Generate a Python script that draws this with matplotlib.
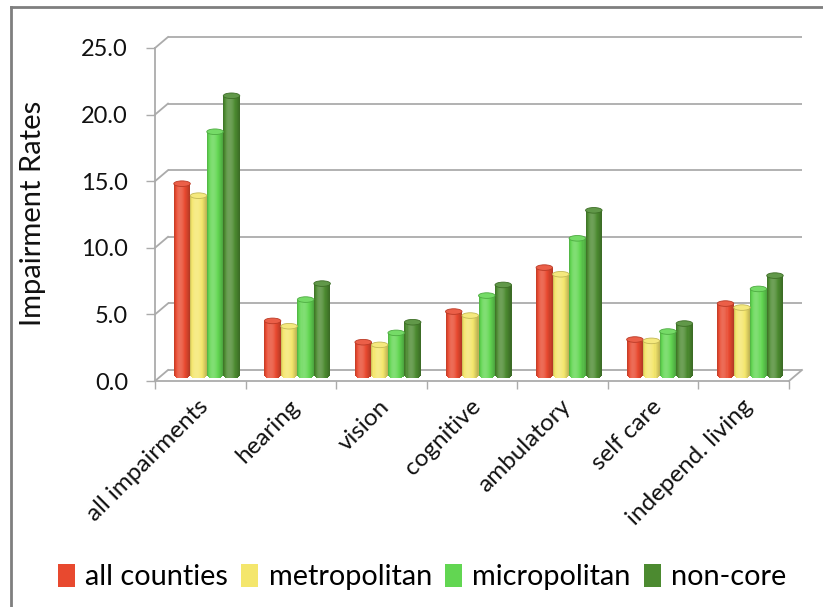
import numpy as np
import matplotlib
matplotlib.use("Agg")
import matplotlib.pyplot as plt
from matplotlib.patches import Ellipse, Patch
from matplotlib.lines import Line2D

categories = ["all impairments", "hearing", "vision", "cognitive",
              "ambulatory", "self care", "independ. living"]
series = ["all counties", "metropolitan", "micropolitan", "non-core"]
all_counties = [14.4, 4.1, 2.5, 4.8, 8.1, 2.7, 5.4]
metropolitan = [13.5, 3.7, 2.3, 4.5, 7.6, 2.6, 5.1]
micropolitan = [18.3, 5.7, 3.2, 6.0, 10.3, 3.3, 6.5]
non_core = [21.0, 6.9, 4.0, 6.8, 12.4, 3.9, 7.5]
colors = ["#E8492F", "#F4E66C", "#62D652", "#4C8A30"]
y_ticks = [0, 5, 10, 15, 20, 25]

values = [all_counties, metropolitan, micropolitan, non_core]

W, H, DPI = 823, 607, 100
plt.rcParams["font.family"] = ["Lato", "DejaVu Sans"]

fig = plt.figure(figsize=(W / DPI, H / DPI), dpi=DPI)
# front plot frame in pixels: x 155..789, y 48..381
left_px, right_px, top_px, bot_px = 155, 789, 48, 381
ax = fig.add_axes([left_px / W, 1 - bot_px / H,
                   (right_px - left_px) / W, (bot_px - top_px) / H])
ax.set_xlim(0, len(categories))
ax.set_ylim(0, 25)

px_x = (right_px - left_px) / len(categories)   # pixels per category
px_y = (bot_px - top_px) / 25.0                 # pixels per unit
DX, DY = 13 / px_x, 11 / px_y                   # depth offset of back wall
grid_c = "#ababab"

# back wall gridlines and side wall diagonals
for v in y_ticks:
    ax.plot([DX, len(categories) + DX], [v + DY, v + DY], color=grid_c,
            lw=1.3, clip_on=False, zorder=1, solid_capstyle="butt")
    ax.plot([0, DX], [v, v + DY], color=grid_c, lw=1.3, clip_on=False, zorder=1)
ax.plot([len(categories), len(categories) + DX], [0, DY], color=grid_c,
        lw=1.3, clip_on=False, zorder=1)

# cylinders
bw = 16.5 / px_x
EH = 2.8 / px_y
base = DY / 2
nstrip = 16


def shade(rgb, t):
    b = 0.76 + 0.36 * np.sin(np.pi * t ** 0.7)
    if b >= 1:
        return rgb + (1 - rgb) * (b - 1) * 1.6
    return rgb * b


for s, (vals, col) in enumerate(zip(values, colors)):
    rgb = np.array(matplotlib.colors.to_rgb(col))
    for i, v in enumerate(vals):
        xc = i + 0.5 + DX / 2 + (s - 1.5) * bw
        x0 = xc - bw / 2
        sw = bw / nstrip
        ts = (np.arange(nstrip) + 0.5) / nstrip
        e = EH * np.sqrt(1 - (2 * ts - 1) ** 2)
        strip_cols = [np.clip(shade(rgb, t), 0, 1) for t in ts]
        ax.bar(x0 + np.arange(nstrip) * sw, v + e, bottom=base - e,
               width=sw * 1.1, align="edge", color=strip_cols,
               linewidth=0, zorder=3 + s * 0.01, clip_on=False)
        top_c = np.clip(rgb + (1 - rgb) * 0.12, 0, 1)
        ax.add_patch(Ellipse((xc, base + v), bw, 2 * EH, facecolor=top_c,
                             edgecolor=rgb * 0.8, lw=0.6, zorder=3.5,
                             clip_on=False))

# axes styling
for name in ["top", "right"]:
    ax.spines[name].set_visible(False)
ax.spines["left"].set_color(grid_c)
ax.spines["left"].set_linewidth(1.3)
ax.spines["bottom"].set_color(grid_c)
ax.spines["bottom"].set_linewidth(1.3)
ax.set_yticks(y_ticks, [f"{t:.1f}" for t in y_ticks])
ax.tick_params(axis="y", length=6.5, width=1, color=grid_c, pad=13,
               labelsize=17, labelcolor="#111111")
ax.set_xticks(np.arange(len(categories) + 1), [""] * (len(categories) + 1))
ax.tick_params(axis="x", length=6, width=1, color=grid_c)

for i, c in enumerate(categories):
    ax.annotate(c, xy=(i + 0.5, 0), xytext=(5, -22), textcoords="offset pixels",
                rotation=45, ha="right", va="center", rotation_mode="anchor",
                fontsize=17.5, color="#111111", annotation_clip=False)

fig.text(33 / W, 1 - 213 / H, "Impairment Rates", rotation=90,
         ha="center", va="center", fontsize=21, color="#111111")

# outer chart frame
fig.add_artist(Line2D([11 / W, 11 / W], [0, 1 - 7 / H], color="#7f7f7f", lw=2))
fig.add_artist(Line2D([11 / W, 1], [1 - 7 / H, 1 - 7 / H], color="#7f7f7f", lw=2))

handles = [Patch(facecolor=c, edgecolor="none") for c in colors]
fig.legend(handles, series, loc="center", bbox_to_anchor=(422 / W, 1 - 577 / H),
           ncol=4, frameon=False, fontsize=20.8, handlelength=0.6,
           handleheight=0.85, handletextpad=0.35, columnspacing=0.45)

fig.savefig("out.png", dpi=DPI)
